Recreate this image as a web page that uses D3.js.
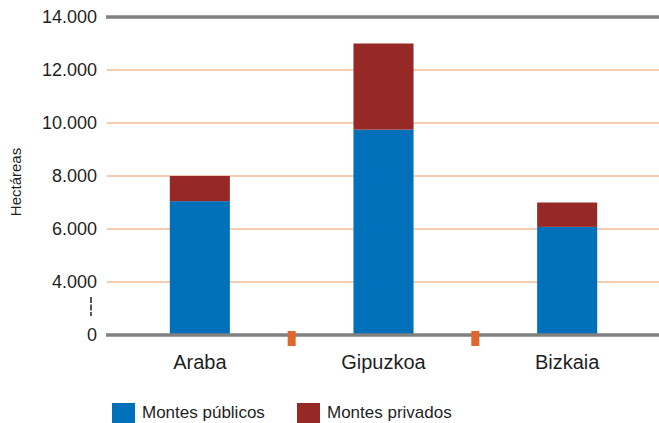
<!DOCTYPE html>
<html>
<head>
<meta charset="utf-8">
<script src="https://cdn.jsdelivr.net/npm/d3@7"></script>
<style>
  body { margin: 0; background: #fff; }
  svg text { font-family: "Liberation Sans", Arial, sans-serif; fill: #1f1f1f; }
</style>
</head>
<body>
<div id="chart"></div>
<script>
const categories = ["Araba", "Gipuzkoa", "Bizkaia"];
const publicos = [7050, 9750, 6080];
const privados = [950, 3250, 920];
const seriesNames = ["Montes públicos", "Montes privados"];
const seriesColors = ["#0070ba", "#962826"];
const yTicks = [0, 4000, 6000, 8000, 10000, 12000, 14000];

const width = 659, height = 423;
const margin = {top: 17, right: 0, bottom: 88, left: 108};

const svg = d3.select("#chart")
  .append("svg")
  .attr("width", width)
  .attr("height", height);

// broken axis: everything below 2.000 collapses onto the baseline
const y = d3.scaleLinear()
  .domain([2000, 14000])
  .range([height - margin.bottom, margin.top])
  .clamp(true);

const x = d3.scaleBand()
  .domain(categories)
  .range([margin.left, width - margin.right])
  .paddingInner(0.673)
  .paddingOuter(0.3365);

const fmt = d => d === 0 ? "0" : d3.format(",")(d).replace(/,/g, ".");

// grid lines
svg.append("g")
  .selectAll("line")
  .data(yTicks.filter(d => d > 0 && d < 14000))
  .enter()
  .append("line")
  .attr("x1", 107)
  .attr("x2", width)
  .attr("y1", d => y(d))
  .attr("y2", d => y(d))
  .attr("stroke", "#f7cdb2")
  .attr("stroke-width", 2);

// top line
svg.append("line")
  .attr("x1", 106).attr("x2", width)
  .attr("y1", y(14000)).attr("y2", y(14000))
  .attr("stroke", "#808080")
  .attr("stroke-width", 3.5);

// y axis labels
const yAxis = svg.append("g")
  .attr("transform", `translate(97,0)`)
  .call(d3.axisLeft(y).tickValues(yTicks).tickFormat(fmt).tickSize(0).tickPadding(0));
yAxis.select(".domain").remove();
yAxis.selectAll("text")
  .style("font-size", "18px")
  .attr("fill", "#1f1f1f");

// axis break mark
svg.append("line")
  .attr("x1", 91).attr("x2", 91)
  .attr("y1", 297).attr("y2", 316)
  .attr("stroke", "#222")
  .attr("stroke-width", 1.5)
  .attr("stroke-dasharray", "6,1.5");

// stacked bars
const rows = categories.map((c, i) => ({cat: c, pub: publicos[i], priv: privados[i]}));
const stack = d3.stack().keys(["pub", "priv"])(rows);

svg.append("g")
  .selectAll("g")
  .data(stack)
  .enter()
  .append("g")
  .attr("fill", (d, i) => seriesColors[i])
  .selectAll("rect")
  .data(d => d)
  .enter()
  .append("rect")
  .attr("x", d => x(d.data.cat))
  .attr("y", d => y(d[1]))
  .attr("width", x.bandwidth())
  .attr("height", d => y(d[0]) - y(d[1]));

// baseline
svg.append("line")
  .attr("x1", 106).attr("x2", width)
  .attr("y1", y(0)).attr("y2", y(0))
  .attr("stroke", "#808080")
  .attr("stroke-width", 3.5);

// orange separators between categories
svg.append("g")
  .selectAll("rect")
  .data(categories.slice(1))
  .enter()
  .append("rect")
  .attr("x", d => x(d) - x.step() * x.paddingInner() / 2 - 4)
  .attr("y", y(0) - 4)
  .attr("width", 8)
  .attr("height", 15)
  .attr("fill", "#e0662c");

// category labels
svg.append("g")
  .selectAll("text")
  .data(categories)
  .enter()
  .append("text")
  .attr("x", d => x(d) + x.bandwidth() / 2)
  .attr("y", 369)
  .attr("text-anchor", "middle")
  .style("font-size", "20px")
  .text(d => d);

// y title
svg.append("text")
  .attr("transform", "translate(21,182) rotate(-90)")
  .attr("text-anchor", "middle")
  .style("font-size", "15px")
  .text("Hectáreas");

// legend
const legendX = [112, 297];
const legend = svg.append("g")
  .selectAll("g")
  .data(seriesNames)
  .enter()
  .append("g")
  .attr("transform", (d, i) => `translate(${legendX[i]},403)`);
legend.append("rect")
  .attr("width", 23)
  .attr("height", 20)
  .attr("fill", (d, i) => seriesColors[i]);
legend.append("text")
  .attr("x", 30)
  .attr("y", 15)
  .style("font-size", "17px")
  .attr("fill", "#333")
  .text(d => d);
</script>
</body>
</html>
